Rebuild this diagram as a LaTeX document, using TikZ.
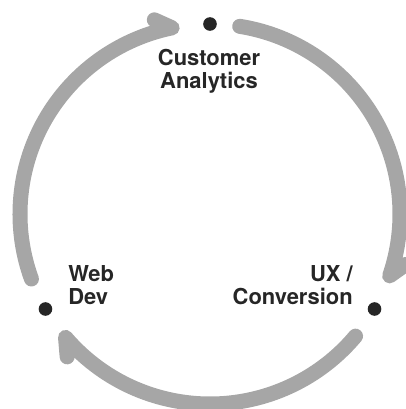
\documentclass[tikz,border=0pt]{standalone}
\usepackage{fontspec}
\setmainfont{TeX Gyre Heros}
\begin{document}
\begin{tikzpicture}[
    x=0.025cm,y=0.025cm,
    stage/.style={circle,fill=black!85,inner sep=0pt,minimum size=3.4mm},
    band/.style={line width=3.75mm,black!35,line cap=round,line join=round},
    tag/.style={inner sep=0pt,text=black!85,
      font=\fontsize{15.6}{16.3}\selectfont\bfseries}
  ]

    % page frame (the ring runs off the right and bottom edges)
    \useasboundingbox (-210,-195) rectangle (196,214);
    \clip (-210,-195) rectangle (196,214);

    % Three stages on the ring
    \coordinate (o) at (0,0);
    \node[stage] (ca) at (90:190) {};
    \node[stage] (ux) at (-30:190) {};
    \node[stage] (wd) at (210:190) {};

    % Ring pieces, clockwise, each ending in a one-sided barb
    \draw[band] (200:190) arc[start angle=200,end angle=101.5,radius=190]
      -- (106:202);
    \draw[band] (81:190) arc[start angle=81,end angle=-19,radius=190]
      -- (-14.5:202);
    \draw[band] (-40:190) arc[start angle=-40,end angle=-139.5,radius=190]
      -- (-135:202);

    % Stage labels
    \node[tag,align=center,anchor=north] (lca) at (-1,165)
      {Customer\\Analytics};
    \node[tag,align=left,anchor=north west] (lwd) at (-142,-51)
      {Web\\Dev};
    \node[tag,align=right,anchor=north east] (lux) at (143,-51)
      {UX /\\Conversion};

  \end{tikzpicture}
\end{document}
